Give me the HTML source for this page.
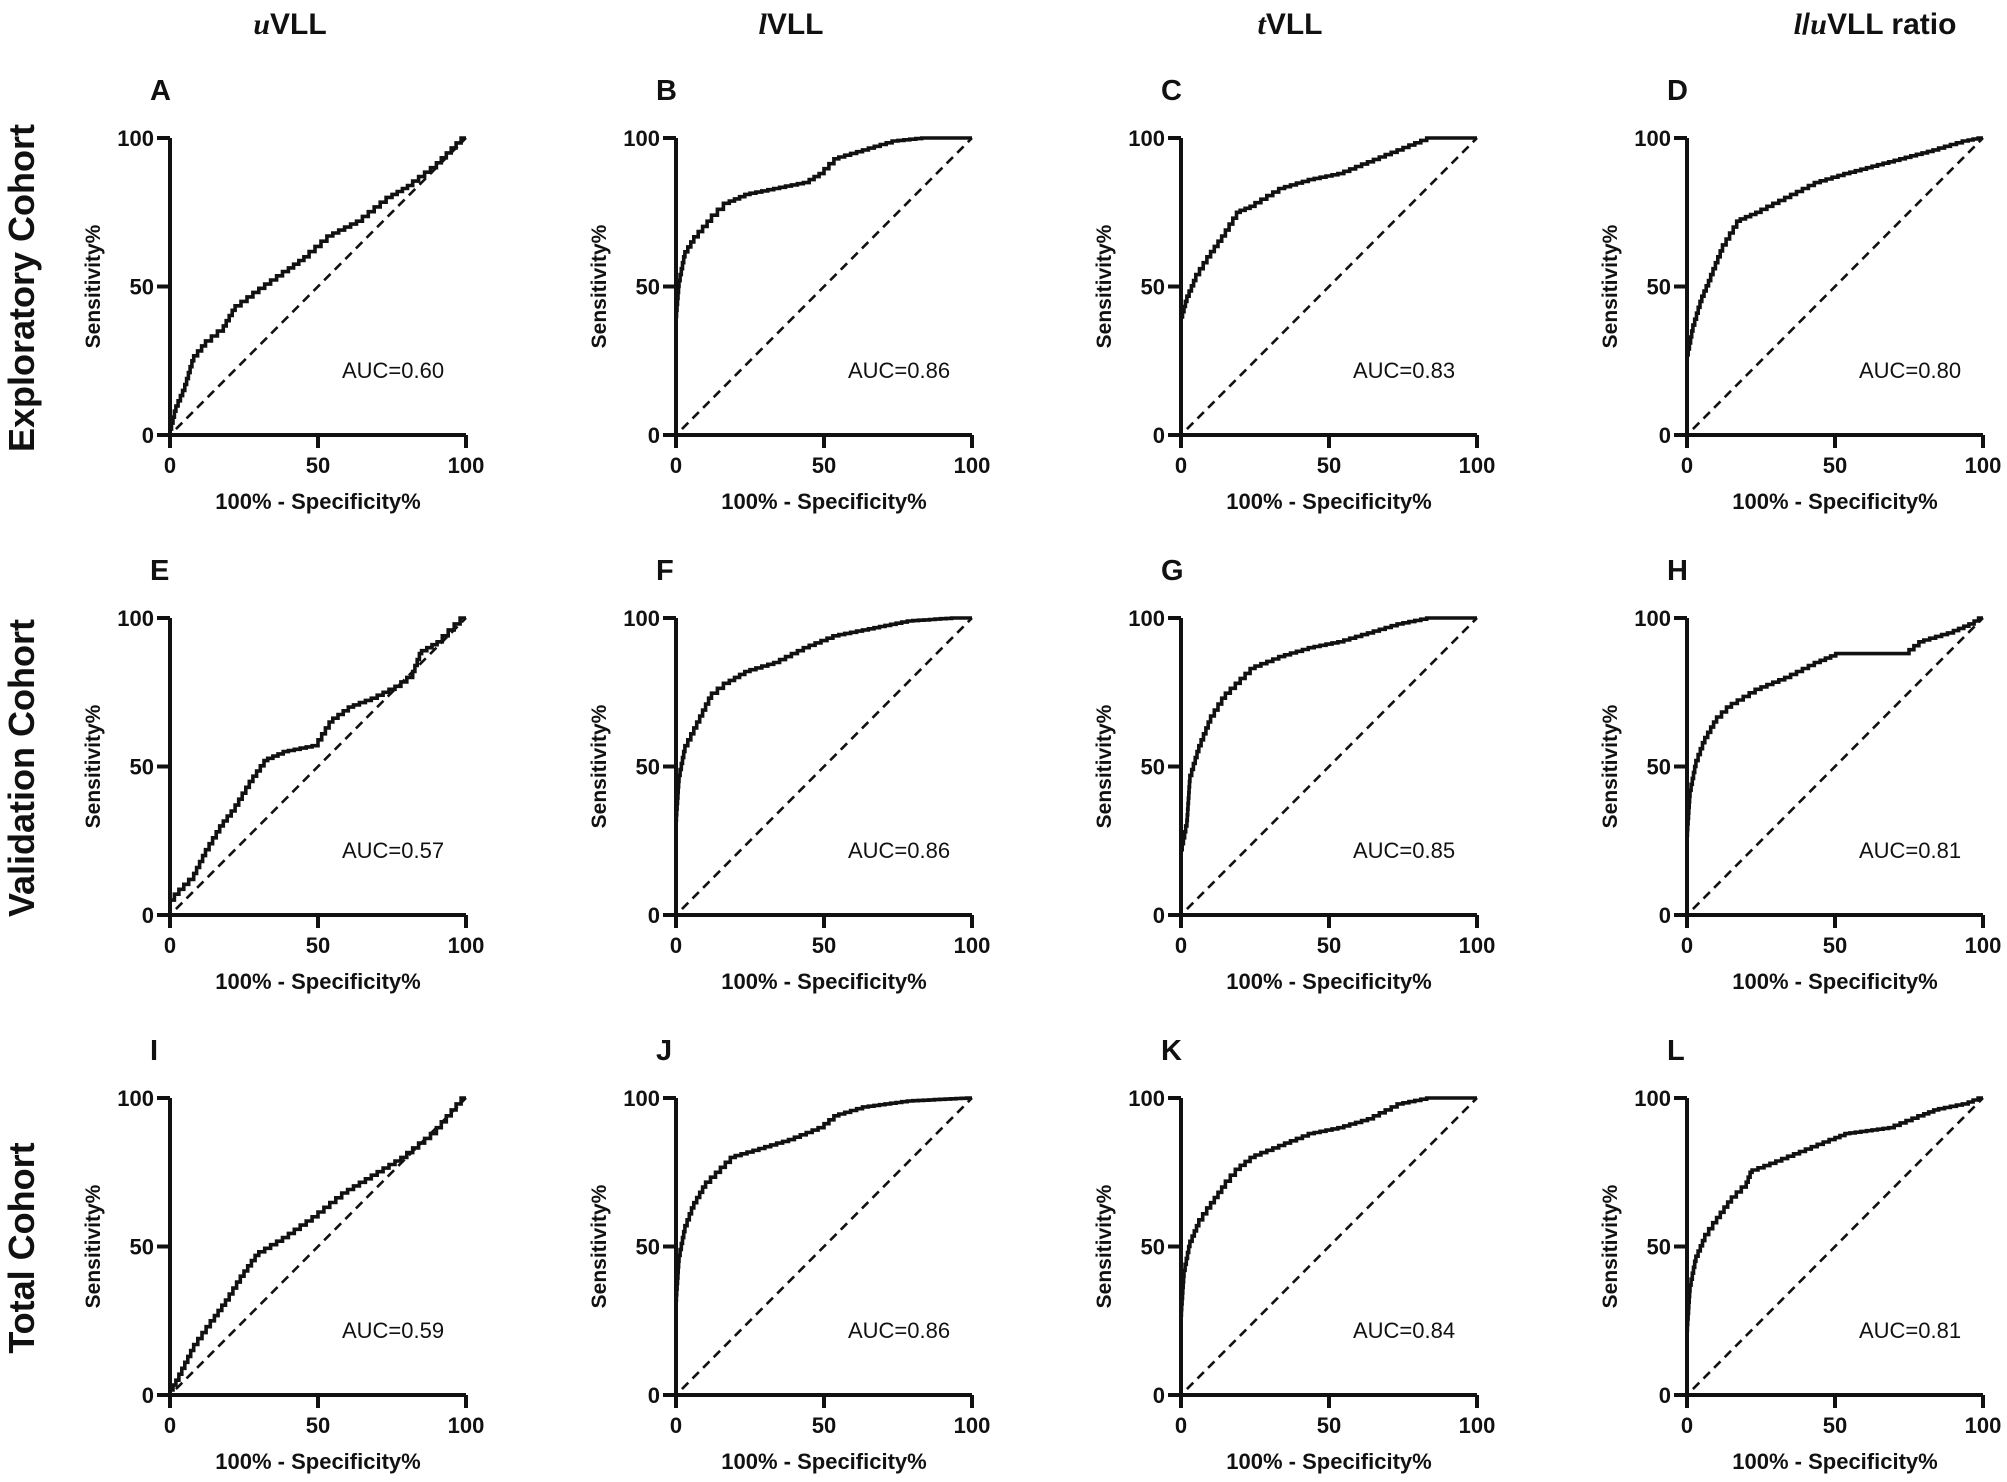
<!DOCTYPE html>
<html><head><meta charset="utf-8"><style>
html,body{margin:0;padding:0;background:#fff;}
svg{display:block;}
text{font-family:"Liberation Sans",Arial,sans-serif;fill:#111;}
</style></head><body>
<svg id="s" width="2007" height="1482" viewBox="0 0 2007 1482" xmlns="http://www.w3.org/2000/svg">
<text x="290" y="34" font-size="30" font-weight="bold" text-anchor="middle"><tspan font-family="Liberation Serif" font-style="italic">u</tspan>VLL</text>
<text x="791" y="34" font-size="30" font-weight="bold" text-anchor="middle"><tspan font-family="Liberation Serif" font-style="italic">l</tspan>VLL</text>
<text x="1290" y="34" font-size="30" font-weight="bold" text-anchor="middle"><tspan font-family="Liberation Serif" font-style="italic">t</tspan>VLL</text>
<text x="1875" y="34" font-size="30" font-weight="bold" text-anchor="middle"><tspan font-family="Liberation Serif" font-style="italic">l</tspan>/<tspan font-family="Liberation Serif" font-style="italic">u</tspan>VLL ratio</text>
<text transform="translate(34,288) rotate(-90)" font-size="36" font-weight="bold" text-anchor="middle">Exploratory Cohort</text>
<text transform="translate(34,768) rotate(-90)" font-size="36" font-weight="bold" text-anchor="middle">Validation Cohort</text>
<text transform="translate(34,1248) rotate(-90)" font-size="36" font-weight="bold" text-anchor="middle">Total Cohort</text>
</svg>
<script>
var NS="http://www.w3.org/2000/svg",S=document.getElementById('s');
function el(t,a,txt){var e=document.createElementNS(NS,t);for(var k in a)e.setAttribute(k,a[k]);if(txt!==undefined)e.textContent=txt;S.appendChild(e);return e;}
var cols=[170,676,1181,1687],rows=[138,618,1098],W=296,H=297;
var letters="ABCDEFGHIJKL",aucs=["0.60","0.86","0.83","0.80","0.57","0.86","0.85","0.81","0.59","0.86","0.84","0.81"];
var C=[
[[0,0],[2,8],[5,15],[8,25],[12,30],[18,35],[22,42],[30,48],[40,55],[47,60],[55,67],[65,72],[75,80],[82,84],[90,90],[95,95],[100,100]],
[[0,0],[0,38],[1,50],[3,60],[6,65],[12,72],[18,78],[25,81],[35,83],[45,85],[50,88],[55,93],[65,96],[75,99],[85,100],[100,100]],
[[0,0],[0,38],[2,45],[5,52],[10,60],[15,67],[20,75],[25,77],[35,83],[45,86],[55,88],[65,92],[75,96],[85,100],[100,100]],
[[0,0],[0,25],[2,35],[5,45],[8,52],[12,62],[18,72],[25,75],[35,80],[45,85],[55,88],[70,92],[85,96],[95,99],[100,100]],
[[0,0],[0,3],[3,7],[8,12],[12,20],[18,30],[22,35],[28,45],[33,52],[40,55],[50,57],[55,65],[62,70],[70,73],[78,77],[82,80],[85,88],[92,92],[100,100]],
[[0,0],[0,30],[1,45],[3,55],[8,65],[12,73],[18,78],[25,82],[35,85],[45,90],[55,94],[65,96],[80,99],[95,100],[100,100]],
[[0,0],[0,20],[2,30],[3,45],[6,55],[10,65],[15,73],[20,78],[25,83],[35,87],[45,90],[55,92],[65,95],[75,98],[85,100],[100,100]],
[[0,0],[0,25],[1,40],[3,50],[6,58],[10,65],[15,70],[25,76],[35,80],[45,85],[52,88],[75,88],[80,92],[90,95],[97,98],[100,100]],
[[0,0],[3,5],[8,15],[15,25],[20,32],[25,40],[30,47],[40,53],[50,60],[60,68],[70,74],[80,80],[90,88],[100,100]],
[[0,0],[0,30],[1,45],[3,55],[6,63],[10,70],[15,75],[20,80],[30,83],[40,86],[50,90],[55,94],[65,97],[80,99],[100,100]],
[[0,0],[0,25],[1,40],[3,50],[6,57],[10,63],[15,70],[20,76],[25,80],[35,84],[45,88],[55,90],[65,93],[75,98],[85,100],[100,100]],
[[0,0],[0,20],[1,35],[3,45],[6,52],[10,58],[15,65],[20,70],[22,75],[30,78],[40,82],[50,86],[55,88],[70,90],[80,94],[85,96],[95,98],[100,100]]];
for(var i=0;i<12;i++){
 var r=Math.floor(i/4),c=i%4,x0=cols[c],y0=rows[r]+H,x1=x0+W,y1=rows[r];
 var X=function(v){return x0+v*W/100},Y=function(v){return y0-v*H/100};
 el('text',{x:x0-20,y:y1-38,'font-size':29,'font-weight':'bold'},letters[i]);
 el('line',{x1:X(2),y1:Y(2),x2:x1,y2:y1,stroke:'#111','stroke-width':2.6,'stroke-dasharray':'9,6'});
 var p=C[i],d="M"+X(0)+","+Y(0),cx=0,cy=0;
 for(var j=1;j<p.length;j++){
  var ax=p[j-1][0],ay=p[j-1][1],bx=p[j][0],by=p[j][1];
  var n=Math.max(1,Math.round(Math.max(bx-ax,by-ay)/1.9));
  for(var k=1;k<=n;k++){
   var tx=ax+(bx-ax)*k/n,ty=ay+(by-ay)*k/n;
   d+=" L"+X(cx).toFixed(1)+","+Y(ty).toFixed(1)+" L"+X(tx).toFixed(1)+","+Y(ty).toFixed(1);
   cx=tx;cy=ty;
  }
 }
 el('path',{d:d,fill:'none',stroke:'#111','stroke-width':3.6,'stroke-linejoin':'miter'});
 el('path',{d:"M"+x0+","+y1+" L"+x0+","+y0+" L"+x1+","+y0,fill:'none',stroke:'#111','stroke-width':4});
 [0,50,100].forEach(function(v){
  el('line',{x1:x0-13,y1:Y(v),x2:x0,y2:Y(v),stroke:'#111','stroke-width':4});
  el('line',{x1:X(v),y1:y0,x2:X(v),y2:y0+13,stroke:'#111','stroke-width':4});
  el('text',{x:x0-16,y:Y(v)+8,'font-size':22,'font-weight':'bold','text-anchor':'end'},String(v));
  el('text',{x:X(v),y:y0+38,'font-size':22,'font-weight':'bold','text-anchor':'middle'},String(v));
 });
 el('text',{x:x0+W/2,y:y0+74,'font-size':22,'font-weight':'bold','text-anchor':'middle'},"100% - Specificity%");
 el('text',{transform:"translate("+(x0-70)+","+(y1+H/2)+") rotate(-90)",'font-size':21,'font-weight':'bold','text-anchor':'middle'},"Sensitivity%");
 el('text',{x:x0+223,y:y1+240,'font-size':22,'text-anchor':'middle'},"AUC="+aucs[i]);
}
</script>
</body></html>
